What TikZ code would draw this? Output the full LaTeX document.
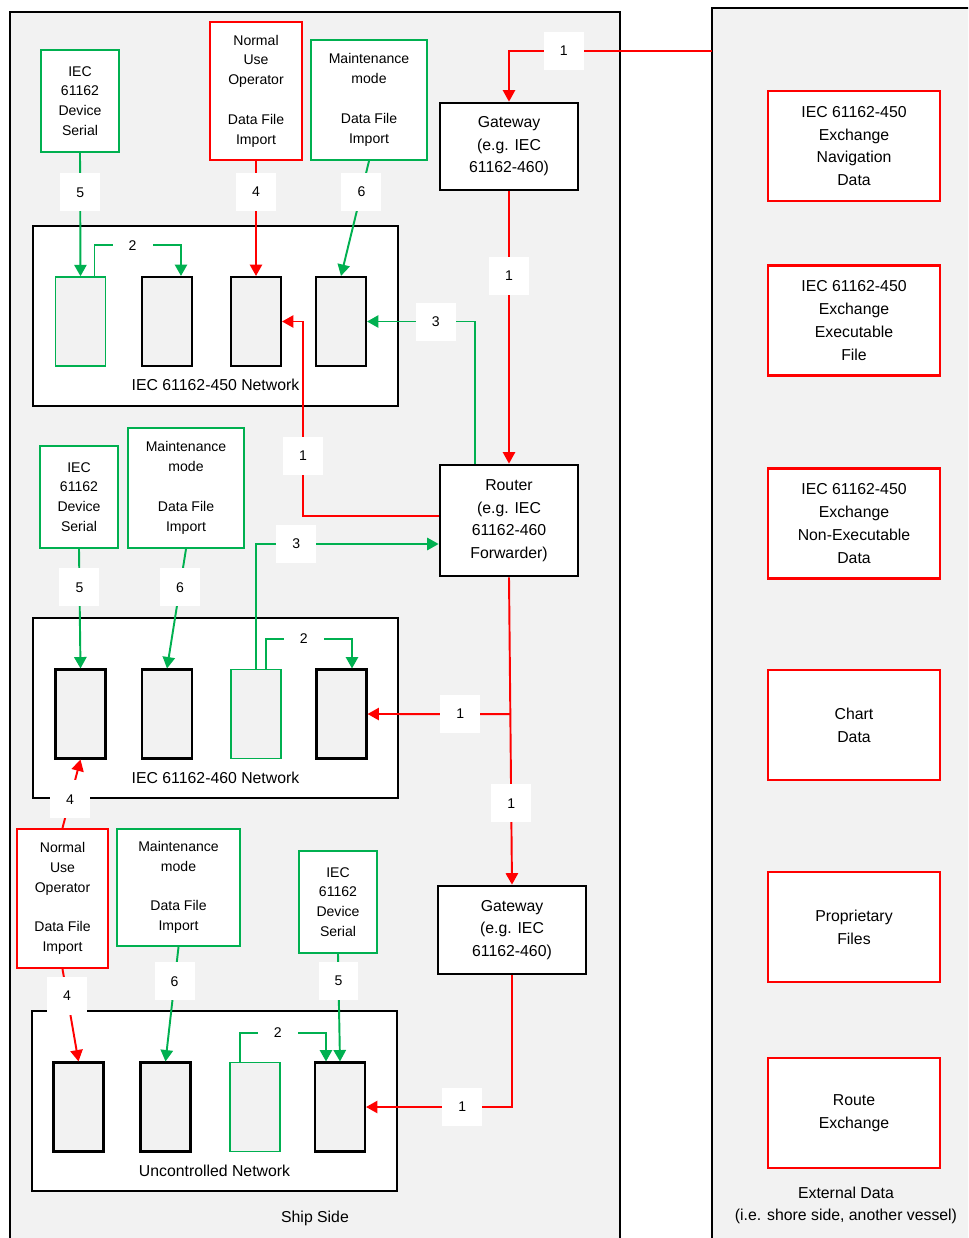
\documentclass[tikz,border=0pt]{standalone}
\usepackage{fontspec}
\setmainfont{Liberation Sans}
\usetikzlibrary{arrows.meta,calc}
\definecolor{shipred}{HTML}{FF0000}
\definecolor{shipgreen}{HTML}{00B050}
\definecolor{panelgray}{HTML}{F2F2F2}
\tikzset{
    panel/.style={draw=black, line width=1.1pt, fill=panelgray},
    network/.style={rectangle, draw=black, line width=1.2pt, fill=white, minimum width=7.3cm, minimum height=3.6cm},
    device/.style={rectangle, draw=black, line width=1.2pt, fill=panelgray, minimum width=1cm, minimum height=1.78cm},
    greendevice/.style={device, draw=shipgreen, line width=0.9pt},
    source/.style={rectangle, draw=shipgreen, line width=1.2pt, fill=white, align=center, inner sep=0pt, font=\fontsize{8}{11.3}\selectfont},
    redsource/.style={source, draw=shipred},
    hub/.style={rectangle, draw=black, line width=1.6pt, fill=white, align=center, font=\fontsize{9}{12.8}\selectfont},
    extbox/.style={rectangle, draw=shipred, line width=1.2pt, fill=white, align=center, minimum width=3.44cm, minimum height=2.2cm, font=\fontsize{9}{13}\selectfont},
    tag/.style={fill=white, inner sep=0pt, minimum width=0.8cm, minimum height=0.76cm, font=\fontsize{8}{10}\selectfont},
    smalltag/.style={tag, minimum height=0.4cm},
    netname/.style={inner sep=0pt, font=\fontsize{9}{11}\selectfont},
    redflow/.style={draw=shipred, line width=1.1pt, -{Triangle[length=6.5pt,width=7pt]}},
    redthin/.style={redflow, line width=0.8pt},
    greenflow/.style={draw=shipgreen, line width=1.1pt, -{Triangle[length=6.5pt,width=7pt]}}
}
\begin{document}
\begin{tikzpicture}
  [
    x                       = 0.02cm,
    y                       = -0.02cm,
  ]
  \useasboundingbox (0,0) rectangle (968,1238);
  \clip (0,0) rectangle (968,1238);

  % ship side and external side
  \draw[panel] (10,12) rectangle (620,1260);
  \draw[panel] (712,8) rectangle (990,1260);
  \node[netname] (shipname) at (315,1218) {Ship Side};
  \node[netname, align=center, font=\fontsize{9}{12.5}\selectfont] (extname) at (846,1205) {External Data\\(i.e. shore side, another vessel)};

  \node[extbox] (ext1) at (854,146) {IEC 61162-450\\Exchange\\Navigation\\Data};
  \node[extbox] (ext2) at (854,320.5) {IEC 61162-450\\Exchange\\Executable\\File};
  \node[extbox] (ext3) at (854,523.5) {IEC 61162-450\\Exchange\\Non-Executable\\Data};
  \node[extbox] (ext4) at (854,725) {Chart\\Data};
  \node[extbox] (ext5) at (854,927) {Proprietary\\Files};
  \node[extbox] (ext6) at (854,1113) {Route\\Exchange};

  % networks
  \node[network] (net1) at (215.5,316) {};
  \node[network] (net2) at (215.5,708) {};
  \node[network] (net3) at (214.5,1101) {};
  \node[netname] (net1name) at ([yshift=0.44cm]net1.south) {IEC 61162-450 Network};
  \node[netname] (net2name) at ([yshift=0.43cm]net2.south) {IEC 61162-460 Network};
  \node[netname] (net3name) at ([yshift=0.43cm]net3.south) {Uncontrolled Network};

  \node[greendevice] (d11) at (80.5,321.5) {};
  \node[device] (d12) at (167,321.5) {};
  \node[device] (d13) at (256,321.5) {};
  \node[device] (d14) at (341,321.5) {};

  \node[device] (d21) at (80.5,714) {};
  \node[device] (d22) at (167,714) {};
  \node[greendevice] (d23) at (256,714) {};
  \node[device] (d24) at (341.5,714) {};

  \node[device] (d31) at (78.5,1107) {};
  \node[device] (d32) at (165.5,1107) {};
  \node[greendevice] (d33) at (255,1107) {};
  \node[device] (d34) at (340,1107) {};

  % data sources
  \node[source, minimum width=1.56cm, minimum height=2.04cm] (ser1) at (80,101) {IEC\\61162\\Device\\Serial};
  \node[redsource, minimum width=1.84cm, minimum height=2.76cm] (op1) at (256,91) {Normal\\Use\\Operator\\[11.3pt]Data File\\Import};
  \node[source, minimum width=2.32cm, minimum height=2.4cm] (mnt1) at (369,100) {Maintenance\\mode\\[11.3pt]Data File\\Import};

  \node[source, minimum width=1.56cm, minimum height=2.04cm] (ser2) at (79,497) {IEC\\61162\\Device\\Serial};
  \node[source, minimum width=2.32cm, minimum height=2.4cm] (mnt2) at (186,488) {Maintenance\\mode\\[11.3pt]Data File\\Import};

  \node[redsource, minimum width=1.82cm, minimum height=2.78cm] (op3) at (62.5,898.5) {Normal\\Use\\Operator\\[11.3pt]Data File\\Import};
  \node[source, minimum width=2.46cm, minimum height=2.34cm] (mnt3) at (178.5,887.5) {Maintenance\\mode\\[11.3pt]Data File\\Import};
  \node[source, minimum width=1.56cm, minimum height=2.04cm] (ser3) at (338,902) {IEC\\61162\\Device\\Serial};

  % gateways and router
  \node[hub, minimum width=2.76cm, minimum height=1.74cm] (gw1) at (509,146.5) {Gateway\\(e.g. IEC\\61162-460)};
  \node[hub, minimum width=2.76cm, minimum height=2.22cm] (router) at (509,520.5) {Router\\(e.g. IEC\\61162-460\\Forwarder)};
  \node[hub, minimum width=2.96cm, minimum height=1.76cm] (gw2) at (512,930) {Gateway\\(e.g. IEC\\61162-460)};

  \coordinate (extin) at (712,51);
  \coordinate (split) at ($(router.south)!0.445!(gw2.north)$);

  % flows
  \draw[redthin] (extin) -| node[tag, pos=0.365] {1} (gw1.north);
  \draw[redthin] (gw1.south) -- node[tag, pos=0.31] {1} (router.north);
  \draw[redflow] ([yshift=0.09cm]router.west) -| node[tag, pos=0.655] {1} ([xshift=0.42cm]d13.east) -- (d13.east);
  \draw[greenflow] ([xshift=0.72cm]router.north west) |- node[tag, pos=0.68] {3} (d14.east);
  \draw[greenflow] (d23.north) |- node[tag, pos=0.61] {3} ([yshift=-0.47cm]router.west);
  \draw[redflow] (router.south) -- node[tag, pos=0.735] {1} (gw2.north);
  \draw[redflow] (split) -- node[tag, pos=0.35] {1} (d24.east);
  \draw[redflow] (gw2.south) |- node[tag, pos=0.67] {1} (d34.east);

  \draw[greenflow] (ser1.south) -- node[tag, pos=0.32] {5} (d11.north);
  \draw[redflow] (op1.south) -- node[tag, pos=0.27] {4} (d13.north);
  \draw[greenflow] (mnt1.south) -- node[tag, pos=0.27] {6} (d14.north);
  \draw[greenflow] ([xshift=0.28cm]d11.north) -- ++(0,-31) -| node[smalltag, pos=0.22] {2} ([xshift=0.28cm]d12.north);

  \draw[greenflow] (ser2.south) -- node[tag, pos=0.32] {5} (d21.north);
  \draw[greenflow] (mnt2.south) -- node[tag, pos=0.32] {6} (d22.north);
  \draw[greenflow] ([xshift=0.2cm]d23.north) -- ++(0,-30) -| node[smalltag, pos=0.22] {2} ([xshift=0.21cm]d24.north);
  \draw[redflow] (op3.north) -- node[tag, pos=0.42] {4} (d21.south);

  \draw[redflow] (op3.south) -- node[tag, pos=0.29] {4} (d31.north);
  \draw[greenflow] (mnt3.south) -- node[tag, pos=0.3] {6} (d32.north);
  \draw[greenflow] (ser3.south) -- node[tag, pos=0.25] {5} (d34.north);
  \draw[greenflow] ([xshift=-0.3cm]d33.north) -- ++(0,-29) -| node[smalltag, pos=0.22] {2} ([xshift=-0.28cm]d34.north);
\end{tikzpicture}
\end{document}
